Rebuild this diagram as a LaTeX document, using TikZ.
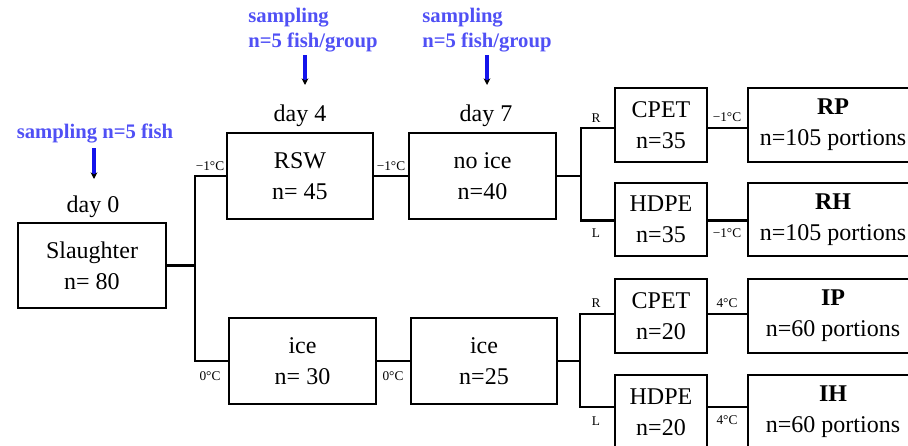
\documentclass[tikz,border=0pt]{standalone}
\usepackage{fontspec}
\setmainfont{Liberation Serif}
\usetikzlibrary{arrows.meta}
\definecolor{samp}{RGB}{80,80,245}
\definecolor{sarrow}{RGB}{20,20,235}
\begin{document}
\begin{tikzpicture}[x=0.75pt,y=-0.75pt,
  box/.style={draw,line width=1.9pt,inner sep=0pt,align=center,font=\fontsize{18}{23}\selectfont},
  conn/.style={line width=1.7pt},
  tlab/.style={font=\fontsize{10}{12}\selectfont,inner sep=0pt},
  daylab/.style={font=\fontsize{18}{22}\selectfont,inner sep=0pt},
  samptext/.style={font=\bfseries\fontsize{15.5}{19}\selectfont,text=samp,inner sep=0pt,align=left},
  sampar/.style={draw=sarrow,line width=2.4pt,-{Stealth[black,length=5pt,width=5pt]}}
]
\useasboundingbox (0,0) rectangle (908,446);
\clip (0,0) rectangle (908,446);
% boxes
\node[box,minimum width=111pt,minimum height=63.75pt] (sl) at (92,265.5) {Slaughter\\n= 80};
\node[box,minimum width=109.5pt,minimum height=64.5pt] (rsw) at (300,176) {RSW\\n= 45};
\node[box,minimum width=110.25pt,minimum height=64.5pt] (noice) at (482.5,176) {no ice\\n=40};
\node[box,minimum width=110.25pt,minimum height=64.5pt] (ice1) at (302.5,361) {ice\\n= 30};
\node[box,minimum width=109.5pt,minimum height=64.5pt] (ice2) at (484,361) {ice\\n=25};
\node[box,minimum width=69pt,minimum height=55.5pt] (cp1) at (661,125) {CPET\\n=35};
\node[box,minimum width=69pt,minimum height=54.75pt] (hd1) at (661,219.5) {HDPE\\n=35};
\node[box,minimum width=69pt,minimum height=55.5pt] (cp2) at (661,316) {CPET\\n=20};
\node[box,minimum width=69pt,minimum height=55.5pt] (hd2) at (661,412) {HDPE\\n=20};
\node[box,minimum width=127.5pt,minimum height=55.5pt] (rp) at (833,125) {\textbf{RP}\\n=105 portions};
\node[box,minimum width=127.5pt,minimum height=54.75pt] (rh) at (833,219.5) {\textbf{RH}\\n=105 portions};
\node[box,minimum width=127.5pt,minimum height=55.5pt] (ip) at (833,316) {\textbf{IP}\\n=60 portions};
\node[box,minimum width=127.5pt,minimum height=55.5pt] (ih) at (833,412) {\textbf{IH}\\n=60 portions};
% junctions
\coordinate (j1) at (195,265.5);
\coordinate (j2) at (581,176);
\coordinate (j3) at (580,361);
% connectors
\draw[conn] (sl.east) -- (j1);
\draw[conn] (rsw.west) -| (j1) |- (ice1.west);
\draw[conn] (rsw.east) -- (noice.west);
\draw[conn] (ice1.east) -- (ice2.west);
\draw[conn] (noice.east) -- (j2);
\draw[conn] ([yshift=-2.25pt]cp1.west) -| (j2) |- ([yshift=-0.75pt]hd1.west);
\draw[conn] (ice2.east) -- (j3);
\draw[conn] ([yshift=1.5pt]cp2.west) -| (j3) |- ([yshift=3.75pt]hd2.west);
\draw[conn] ([yshift=-2.25pt]cp1.east) -- ([yshift=-2.25pt]rp.west);
\draw[conn] ([yshift=-0.75pt]hd1.east) -- ([yshift=-0.75pt]rh.west);
\draw[conn] ([yshift=1.5pt]cp2.east) -- ([yshift=1.5pt]ip.west);
\draw[conn] ([yshift=3.75pt]hd2.east) -- ([yshift=3.75pt]ih.west);
% temperature labels
\node[tlab] (t1) at (210,166) {−1°C};
\node[tlab] (t2) at (391,166) {−1°C};
\node[tlab] (t3) at (727,117) {−1°C};
\node[tlab] (t4) at (727,233) {−1°C};
\node[tlab] (t5) at (210,376) {0°C};
\node[tlab] (t6) at (393,376) {0°C};
\node[tlab] (t7) at (727,303) {4°C};
\node[tlab] (t8) at (727,420) {4°C};
\node[tlab] (r1) at (596,118) {R};
\node[tlab] (l1) at (596,233) {L};
\node[tlab] (r2) at (596,303) {R};
\node[tlab] (l2) at (596,421) {L};
% day labels
\node[daylab] (d0) at (93,207) {day 0};
\node[daylab] (d4) at (300,116) {day 4};
\node[daylab] (d7) at (486,116) {day 7};
% sampling
\node[samptext] (s0) at (95,134) {sampling n=5 fish};
\node[samptext] (s4) at (313,30) {sampling\\n=5 fish/group};
\node[samptext] (s7) at (487,30) {sampling\\n=5 fish/group};
\coordinate (a0t) at (94,148); \coordinate (a0b) at (94,179);
\coordinate (a4t) at (305,55); \coordinate (a4b) at (305,85);
\coordinate (a7t) at (487,55); \coordinate (a7b) at (487,85);
\draw[sampar] (a0t) -- (a0b);
\draw[sampar] (a4t) -- (a4b);
\draw[sampar] (a7t) -- (a7b);
\end{tikzpicture}
\end{document}
